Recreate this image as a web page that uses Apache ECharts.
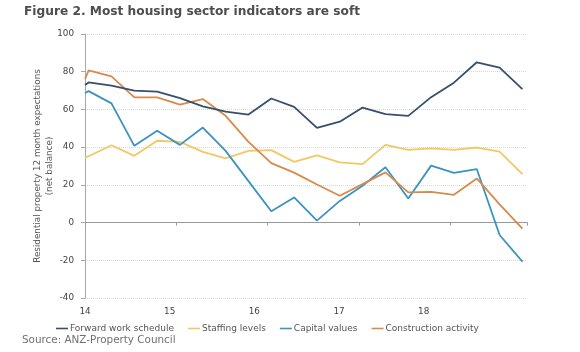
<!DOCTYPE html>
<html>
<head>
<meta charset="utf-8">
<script src="https://cdn.jsdelivr.net/npm/echarts@6/dist/echarts.min.js"></script>
<style>
  html, body { margin: 0; padding: 0; background: #fff; }
  #chart { width: 580px; height: 352px; }
</style>
</head>
<body>
<div id="chart"></div>
<script>
// x position of each point, in years (14 = 2014)
const xs = [14.00, 14.04, 14.29, 14.54, 14.79, 15.04, 15.29, 15.54, 15.79, 16.04, 16.29,
            16.54, 16.79, 17.04, 17.29, 17.54, 17.79, 18.04, 18.29, 18.54, 18.79];
const xLabels = ['14', '15', '16', '17', '18'];

const forwardWork = [73, 74.3, 72.6, 70, 69.4, 66, 61.6, 58.8, 57.3, 65.8, 61.4,
                     50.2, 53.5, 61, 57.5, 56.6, 66.5, 74.2, 85, 82.2, 70.8];
const staffing = [34.5, 35.2, 41, 35.4, 43.4, 42.8, 37.5, 34, 38, 38.4, 32.2,
                  35.6, 31.9, 31, 41.2, 38.6, 39.4, 38.6, 39.8, 37.6, 25.7];
const capital = [68.7, 69.7, 63.2, 40.7, 48.7, 41.2, 50.4, 38, 22, 6, 13.3,
                 1, 11.5, 19.5, 29.3, 12.8, 30.2, 26.3, 28.4, -6.6, -20.7];
const construction = [76, 80.7, 77.5, 66.4, 66.4, 62.5, 65.5, 56.6, 42.8, 31.5, 26.5,
                      20.2, 14.2, 20.4, 26.6, 16, 16.3, 14.7, 23.4, 9.7, -3.2];

const names = ['Forward work schedule', 'Staffing levels', 'Capital values', 'Construction activity'];
const values = [forwardWork, staffing, capital, construction];
const colors = ['#34506e', '#f2c862', '#3b93bf', '#d88a4c'];

const font = 'DejaVu Sans, Verdana, sans-serif';

const chart = echarts.init(document.getElementById('chart'));

const series = names.map((name, i) => ({
    name: name,
    type: 'line',
    data: xs.map((x, j) => [x, values[i][j]]),
    showSymbol: false,
    symbol: 'none',
    color: colors[i],
    lineStyle: { width: 1.8, color: colors[i] },
    xAxisIndex: 0,
    z: 3 + (i === 0 ? 1 : 0)
}));

const option = {
    animation: false,
    title: {
        text: 'Figure 2. Most housing sector indicators are soft',
        left: 19,
        top: 1,
        textStyle: { fontFamily: font, fontSize: 12.2, fontWeight: 'bold', color: '#4d4d4d' }
    },
    legend: {
        data: names,
        left: 51,
        top: 319,
        icon: 'rect',
        itemWidth: 12,
        itemHeight: 1.6,
        itemGap: 14,
        textStyle: { fontFamily: font, fontSize: 9, color: '#555', padding: [0, 0, 0, -3] }
    },
    graphic: [{
        type: 'text',
        left: 22,
        top: 335,
        style: { text: 'Source: ANZ-Property Council', fontFamily: font, fontSize: 10.4, fill: '#707070' }
    }],
    grid: { left: 85, right: 53, top: 34, bottom: 54 },
    xAxis: [{
        type: 'value',
        min: 14,
        max: 18.84,
        interval: 1,
        axisLine: { onZero: true, lineStyle: { color: '#9a9a9a', width: 1 } },
        axisTick: { show: true, length: 3, lineStyle: { color: '#9a9a9a' } },
        axisLabel: { show: false },
        splitLine: { show: false }
    }, {
        // labels only, placed as in the original
        type: 'value',
        position: 'bottom',
        min: 14,
        max: 19.22,
        interval: 1,
        axisLine: { show: false, onZero: false },
        axisTick: { show: false },
        splitLine: { show: false },
        axisLabel: {
            margin: 9,
            fontFamily: font,
            fontSize: 8.8,
            color: '#444',
            formatter: v => xLabels[Math.round(v - 14)] || ''
        }
    }],
    yAxis: {
        type: 'value',
        min: -40,
        max: 100,
        interval: 20,
        name: 'Residential property 12 month expectations\n(net balance)',
        nameLocation: 'middle',
        nameRotate: 90,
        nameGap: 29,
        nameMoveOverlap: false,
        nameTextStyle: { fontFamily: font, fontSize: 8.8, color: '#555', lineHeight: 12 },
        axisLine: { show: true, lineStyle: { color: '#a8a8a8', width: 1 } },
        axisTick: { show: true, length: 4, lineStyle: { color: '#a8a8a8' } },
        axisLabel: { fontFamily: font, fontSize: 8.8, color: '#444', margin: 11 },
        splitLine: { show: true, lineStyle: { color: '#d8d8d8', type: 'dotted', width: 1 } }
    },
    series: series
};

chart.setOption(option);
</script>
</body>
</html>
